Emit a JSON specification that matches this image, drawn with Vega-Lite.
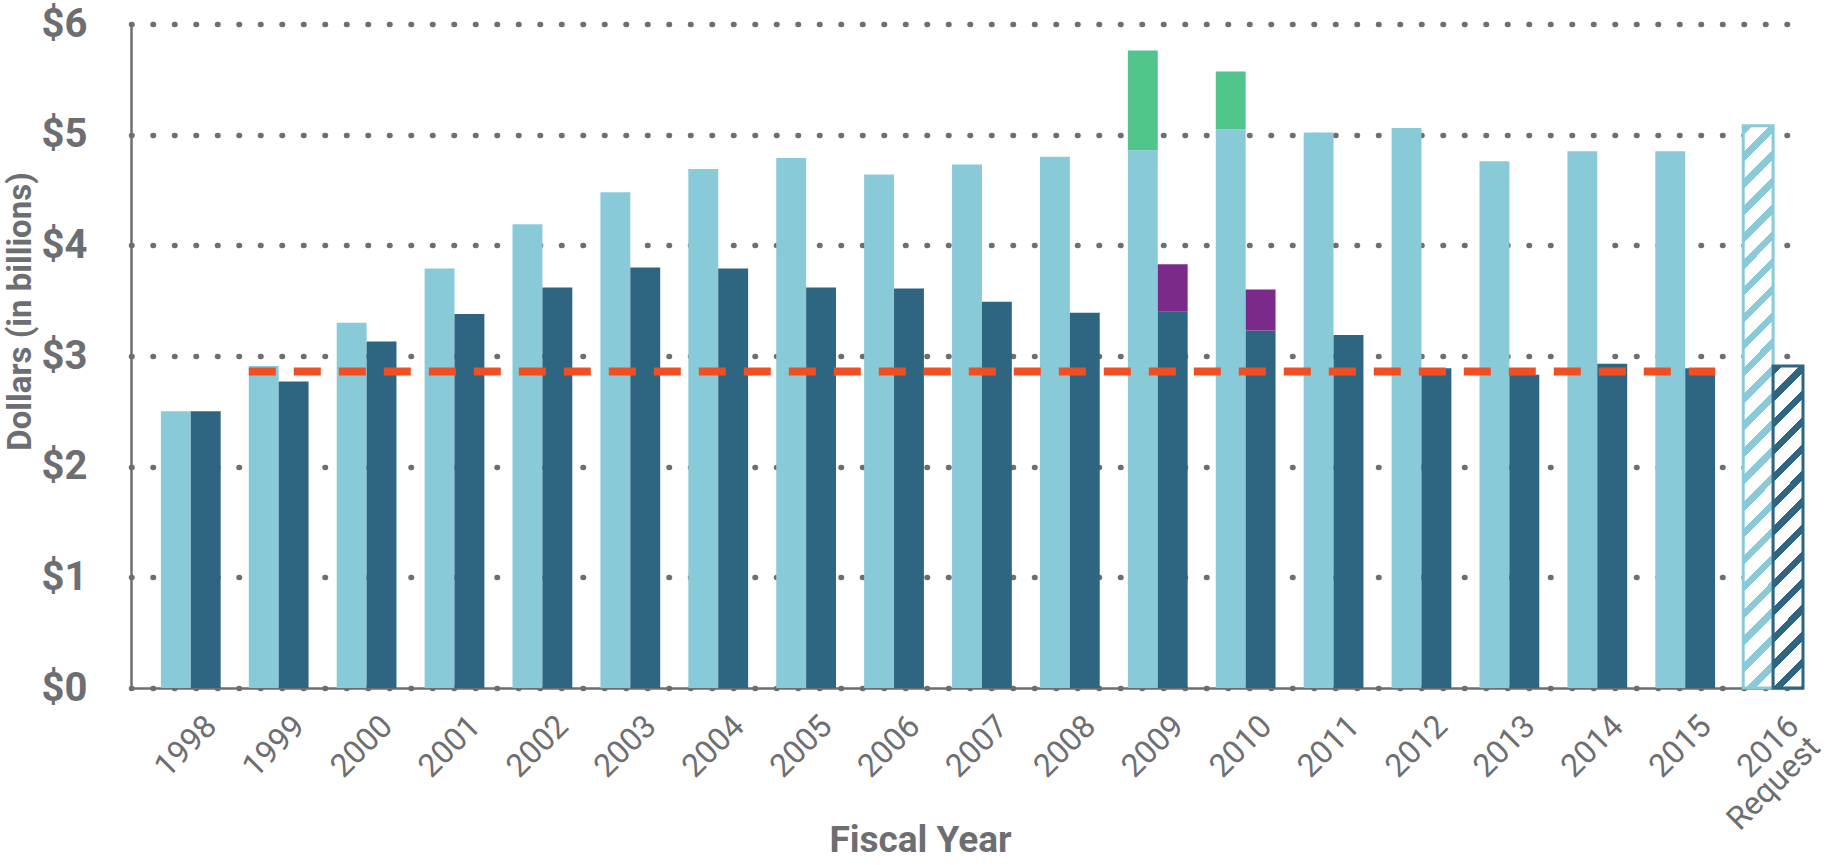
{
  "$schema": "https://vega.github.io/schema/vega-lite/v6.json",
  "width": 1672,
  "height": 664,
  "autosize": {"type": "none"},
  "padding": {"left": 131, "top": 24, "right": 34, "bottom": 177},
  "background": "#ffffff",
  "config": {
    "view": {"stroke": null},
    "font": "Roboto",
    "axis": {"labelColor": "#6D6E71", "titleColor": "#6D6E71", "domainColor": "#6D6E71", "domainWidth": 2.5, "ticks": false}
  },
  "datasets": {
    "bars": [
      {"year": "1998", "series": "Current", "segment": "Current base", "lo": 0, "hi": 2.50},
      {"year": "1998", "series": "Constant", "segment": "Constant base", "lo": 0, "hi": 2.50},
      {"year": "1999", "series": "Current", "segment": "Current base", "lo": 0, "hi": 2.91},
      {"year": "1999", "series": "Constant", "segment": "Constant base", "lo": 0, "hi": 2.77},
      {"year": "2000", "series": "Current", "segment": "Current base", "lo": 0, "hi": 3.30},
      {"year": "2000", "series": "Constant", "segment": "Constant base", "lo": 0, "hi": 3.13},
      {"year": "2001", "series": "Current", "segment": "Current base", "lo": 0, "hi": 3.79},
      {"year": "2001", "series": "Constant", "segment": "Constant base", "lo": 0, "hi": 3.38},
      {"year": "2002", "series": "Current", "segment": "Current base", "lo": 0, "hi": 4.19},
      {"year": "2002", "series": "Constant", "segment": "Constant base", "lo": 0, "hi": 3.62},
      {"year": "2003", "series": "Current", "segment": "Current base", "lo": 0, "hi": 4.48},
      {"year": "2003", "series": "Constant", "segment": "Constant base", "lo": 0, "hi": 3.80},
      {"year": "2004", "series": "Current", "segment": "Current base", "lo": 0, "hi": 4.69},
      {"year": "2004", "series": "Constant", "segment": "Constant base", "lo": 0, "hi": 3.79},
      {"year": "2005", "series": "Current", "segment": "Current base", "lo": 0, "hi": 4.79},
      {"year": "2005", "series": "Constant", "segment": "Constant base", "lo": 0, "hi": 3.62},
      {"year": "2006", "series": "Current", "segment": "Current base", "lo": 0, "hi": 4.64},
      {"year": "2006", "series": "Constant", "segment": "Constant base", "lo": 0, "hi": 3.61},
      {"year": "2007", "series": "Current", "segment": "Current base", "lo": 0, "hi": 4.73},
      {"year": "2007", "series": "Constant", "segment": "Constant base", "lo": 0, "hi": 3.49},
      {"year": "2008", "series": "Current", "segment": "Current base", "lo": 0, "hi": 4.80},
      {"year": "2008", "series": "Constant", "segment": "Constant base", "lo": 0, "hi": 3.39},
      {"year": "2009", "series": "Current", "segment": "Current base", "lo": 0, "hi": 4.86},
      {"year": "2009", "series": "Current", "segment": "Current ARRA", "lo": 4.86, "hi": 5.76},
      {"year": "2009", "series": "Constant", "segment": "Constant base", "lo": 0, "hi": 3.40},
      {"year": "2009", "series": "Constant", "segment": "Constant ARRA", "lo": 3.40, "hi": 3.83},
      {"year": "2010", "series": "Current", "segment": "Current base", "lo": 0, "hi": 5.05},
      {"year": "2010", "series": "Current", "segment": "Current ARRA", "lo": 5.05, "hi": 5.57},
      {"year": "2010", "series": "Constant", "segment": "Constant base", "lo": 0, "hi": 3.23},
      {"year": "2010", "series": "Constant", "segment": "Constant ARRA", "lo": 3.23, "hi": 3.60},
      {"year": "2011", "series": "Current", "segment": "Current base", "lo": 0, "hi": 5.02},
      {"year": "2011", "series": "Constant", "segment": "Constant base", "lo": 0, "hi": 3.19},
      {"year": "2012", "series": "Current", "segment": "Current base", "lo": 0, "hi": 5.06},
      {"year": "2012", "series": "Constant", "segment": "Constant base", "lo": 0, "hi": 2.89},
      {"year": "2013", "series": "Current", "segment": "Current base", "lo": 0, "hi": 4.76},
      {"year": "2013", "series": "Constant", "segment": "Constant base", "lo": 0, "hi": 2.83},
      {"year": "2014", "series": "Current", "segment": "Current base", "lo": 0, "hi": 4.85},
      {"year": "2014", "series": "Constant", "segment": "Constant base", "lo": 0, "hi": 2.93},
      {"year": "2015", "series": "Current", "segment": "Current base", "lo": 0, "hi": 4.85},
      {"year": "2015", "series": "Constant", "segment": "Constant base", "lo": 0, "hi": 2.89},
      {"year": "2016", "series": "Current", "segment": "Current request", "lo": 0, "hi": 5.08},
      {"year": "2016", "series": "Constant", "segment": "Constant request", "lo": 0, "hi": 2.91}
    ],
    "level": [
      {"from": "1999", "to": "2015", "value": 2.86}
    ]
  },
  "data": {"name": "bars"},
  "encoding": {
    "x": {
      "field": "year",
      "type": "nominal",
      "scale": {"paddingInner": 0.32, "paddingOuter": 0.17, "align": 1},
      "axis": {
        "title": "Fiscal Year",
        "titleFontSize": 37,
        "titleFontWeight": "bold",
        "titleX": 789,
        "titleY": 163,
        "titleAlign": "center",
        "titleBaseline": "alphabetic",
        "labelAngle": -45,
        "labelFontSize": 32,
        "labelPadding": 22,
        "labelOffset": 10,
        "labelExpr": "datum.value == '2016' ? ['2016', 'Request'] : datum.value",
        "labelLineHeight": 30
      }
    }
  },
  "layer": [
    {
      "transform": [{"filter": "datum.segment != 'Current request' && datum.segment != 'Constant request'"}],
      "mark": {"type": "bar"},
      "encoding": {
        "xOffset": {"field": "series", "type": "nominal", "scale": {"domain": ["Current", "Constant"]}},
        "y": {
          "field": "hi",
          "type": "quantitative",
          "scale": {"domain": [0, 6]},
          "axis": {
            "title": "Dollars (in billions)",
            "titleFontSize": 33,
            "titleFontWeight": "bold",
            "titleX": -111,
            "titleY": 287,
            "titleAngle": -90,
            "titleAlign": "center",
            "titleBaseline": "middle",
            "values": [0, 1, 2, 3, 4, 5, 6],
            "labelExpr": "'$' + datum.value",
            "labelFontSize": 40,
            "labelFontWeight": "bold",
            "labelPadding": 44,
            "grid": true,
            "gridColor": "#6D6E71",
            "gridDash": [0.5, 21],
            "gridCap": "round",
            "gridWidth": 5.5,
            "gridOpacity": 1
          }
        },
        "y2": {"field": "lo"},
        "color": {
          "field": "segment",
          "type": "nominal",
          "scale": {
            "domain": ["Current base", "Current ARRA", "Constant base", "Constant ARRA"],
            "range": ["#89CAD8", "#50C48A", "#2E6681", "#7B2A8C"]
          },
          "legend": null
        }
      }
    },
    {
      "transform": [{"filter": "datum.segment == 'Current request'"}],
      "mark": {
        "type": "bar",
        "stroke": "#89CAD8",
        "strokeWidth": 3,
        "fill": {
          "gradient": "linear", "x1": 0, "y1": 0, "x2": 0.0566, "y2": 1.06,
          "stops": [
            {"offset": 0, "color": "#89CAD8"}, {"offset": 0.016, "color": "#89CAD8"}, {"offset": 0.016, "color": "#ffffff"}, {"offset": 0.045, "color": "#ffffff"},
            {"offset": 0.045, "color": "#89CAD8"}, {"offset": 0.061, "color": "#89CAD8"}, {"offset": 0.061, "color": "#ffffff"}, {"offset": 0.09, "color": "#ffffff"},
            {"offset": 0.09, "color": "#89CAD8"}, {"offset": 0.106, "color": "#89CAD8"}, {"offset": 0.106, "color": "#ffffff"}, {"offset": 0.135, "color": "#ffffff"},
            {"offset": 0.135, "color": "#89CAD8"}, {"offset": 0.151, "color": "#89CAD8"}, {"offset": 0.151, "color": "#ffffff"}, {"offset": 0.18, "color": "#ffffff"},
            {"offset": 0.18, "color": "#89CAD8"}, {"offset": 0.196, "color": "#89CAD8"}, {"offset": 0.196, "color": "#ffffff"}, {"offset": 0.225, "color": "#ffffff"},
            {"offset": 0.225, "color": "#89CAD8"}, {"offset": 0.241, "color": "#89CAD8"}, {"offset": 0.241, "color": "#ffffff"}, {"offset": 0.27, "color": "#ffffff"},
            {"offset": 0.27, "color": "#89CAD8"}, {"offset": 0.286, "color": "#89CAD8"}, {"offset": 0.286, "color": "#ffffff"}, {"offset": 0.315, "color": "#ffffff"},
            {"offset": 0.315, "color": "#89CAD8"}, {"offset": 0.331, "color": "#89CAD8"}, {"offset": 0.331, "color": "#ffffff"}, {"offset": 0.36, "color": "#ffffff"},
            {"offset": 0.36, "color": "#89CAD8"}, {"offset": 0.376, "color": "#89CAD8"}, {"offset": 0.376, "color": "#ffffff"}, {"offset": 0.405, "color": "#ffffff"},
            {"offset": 0.405, "color": "#89CAD8"}, {"offset": 0.421, "color": "#89CAD8"}, {"offset": 0.421, "color": "#ffffff"}, {"offset": 0.45, "color": "#ffffff"},
            {"offset": 0.45, "color": "#89CAD8"}, {"offset": 0.466, "color": "#89CAD8"}, {"offset": 0.466, "color": "#ffffff"}, {"offset": 0.495, "color": "#ffffff"},
            {"offset": 0.495, "color": "#89CAD8"}, {"offset": 0.511, "color": "#89CAD8"}, {"offset": 0.511, "color": "#ffffff"}, {"offset": 0.54, "color": "#ffffff"},
            {"offset": 0.54, "color": "#89CAD8"}, {"offset": 0.556, "color": "#89CAD8"}, {"offset": 0.556, "color": "#ffffff"}, {"offset": 0.585, "color": "#ffffff"},
            {"offset": 0.585, "color": "#89CAD8"}, {"offset": 0.601, "color": "#89CAD8"}, {"offset": 0.601, "color": "#ffffff"}, {"offset": 0.63, "color": "#ffffff"},
            {"offset": 0.63, "color": "#89CAD8"}, {"offset": 0.646, "color": "#89CAD8"}, {"offset": 0.646, "color": "#ffffff"}, {"offset": 0.675, "color": "#ffffff"},
            {"offset": 0.675, "color": "#89CAD8"}, {"offset": 0.691, "color": "#89CAD8"}, {"offset": 0.691, "color": "#ffffff"}, {"offset": 0.72, "color": "#ffffff"},
            {"offset": 0.72, "color": "#89CAD8"}, {"offset": 0.736, "color": "#89CAD8"}, {"offset": 0.736, "color": "#ffffff"}, {"offset": 0.765, "color": "#ffffff"},
            {"offset": 0.765, "color": "#89CAD8"}, {"offset": 0.781, "color": "#89CAD8"}, {"offset": 0.781, "color": "#ffffff"}, {"offset": 0.81, "color": "#ffffff"},
            {"offset": 0.81, "color": "#89CAD8"}, {"offset": 0.826, "color": "#89CAD8"}, {"offset": 0.826, "color": "#ffffff"}, {"offset": 0.855, "color": "#ffffff"},
            {"offset": 0.855, "color": "#89CAD8"}, {"offset": 0.871, "color": "#89CAD8"}, {"offset": 0.871, "color": "#ffffff"}, {"offset": 0.9, "color": "#ffffff"},
            {"offset": 0.9, "color": "#89CAD8"}, {"offset": 0.916, "color": "#89CAD8"}, {"offset": 0.916, "color": "#ffffff"}, {"offset": 0.945, "color": "#ffffff"},
            {"offset": 0.945, "color": "#89CAD8"}, {"offset": 0.961, "color": "#89CAD8"}, {"offset": 0.961, "color": "#ffffff"}, {"offset": 0.99, "color": "#ffffff"},
            {"offset": 0.99, "color": "#89CAD8"}, {"offset": 1, "color": "#89CAD8"}
          ]
        }
      },
      "encoding": {
        "xOffset": {"field": "series", "type": "nominal", "scale": {"domain": ["Current", "Constant"]}},
        "y": {"field": "hi", "type": "quantitative"},
        "y2": {"field": "lo"}
      }
    },
    {
      "transform": [{"filter": "datum.segment == 'Constant request'"}],
      "mark": {
        "type": "bar",
        "stroke": "#2E6681",
        "strokeWidth": 3,
        "fill": {
          "gradient": "linear", "x1": 0, "y1": 0, "x2": 0.1025, "y2": 1.1,
          "stops": [
            {"offset": 0, "color": "#2E6681"}, {"offset": 0.026, "color": "#2E6681"}, {"offset": 0.026, "color": "#ffffff"}, {"offset": 0.075, "color": "#ffffff"},
            {"offset": 0.075, "color": "#2E6681"}, {"offset": 0.101, "color": "#2E6681"}, {"offset": 0.101, "color": "#ffffff"}, {"offset": 0.15, "color": "#ffffff"},
            {"offset": 0.15, "color": "#2E6681"}, {"offset": 0.176, "color": "#2E6681"}, {"offset": 0.176, "color": "#ffffff"}, {"offset": 0.225, "color": "#ffffff"},
            {"offset": 0.225, "color": "#2E6681"}, {"offset": 0.251, "color": "#2E6681"}, {"offset": 0.251, "color": "#ffffff"}, {"offset": 0.3, "color": "#ffffff"},
            {"offset": 0.3, "color": "#2E6681"}, {"offset": 0.326, "color": "#2E6681"}, {"offset": 0.326, "color": "#ffffff"}, {"offset": 0.375, "color": "#ffffff"},
            {"offset": 0.375, "color": "#2E6681"}, {"offset": 0.401, "color": "#2E6681"}, {"offset": 0.401, "color": "#ffffff"}, {"offset": 0.45, "color": "#ffffff"},
            {"offset": 0.45, "color": "#2E6681"}, {"offset": 0.476, "color": "#2E6681"}, {"offset": 0.476, "color": "#ffffff"}, {"offset": 0.525, "color": "#ffffff"},
            {"offset": 0.525, "color": "#2E6681"}, {"offset": 0.551, "color": "#2E6681"}, {"offset": 0.551, "color": "#ffffff"}, {"offset": 0.6, "color": "#ffffff"},
            {"offset": 0.6, "color": "#2E6681"}, {"offset": 0.626, "color": "#2E6681"}, {"offset": 0.626, "color": "#ffffff"}, {"offset": 0.675, "color": "#ffffff"},
            {"offset": 0.675, "color": "#2E6681"}, {"offset": 0.701, "color": "#2E6681"}, {"offset": 0.701, "color": "#ffffff"}, {"offset": 0.75, "color": "#ffffff"},
            {"offset": 0.75, "color": "#2E6681"}, {"offset": 0.776, "color": "#2E6681"}, {"offset": 0.776, "color": "#ffffff"}, {"offset": 0.825, "color": "#ffffff"},
            {"offset": 0.825, "color": "#2E6681"}, {"offset": 0.851, "color": "#2E6681"}, {"offset": 0.851, "color": "#ffffff"}, {"offset": 0.9, "color": "#ffffff"},
            {"offset": 0.9, "color": "#2E6681"}, {"offset": 0.926, "color": "#2E6681"}, {"offset": 0.926, "color": "#ffffff"}, {"offset": 0.975, "color": "#ffffff"},
            {"offset": 0.975, "color": "#2E6681"}, {"offset": 1, "color": "#2E6681"}
          ]
        }
      },
      "encoding": {
        "xOffset": {"field": "series", "type": "nominal", "scale": {"domain": ["Current", "Constant"]}},
        "y": {"field": "hi", "type": "quantitative"},
        "y2": {"field": "lo"}
      }
    },
    {
      "data": {"name": "level"},
      "mark": {"type": "rule", "color": "#F04E23", "strokeWidth": 8, "strokeDash": [27, 18]},
      "encoding": {
        "x": {"field": "from", "type": "nominal", "bandPosition": 0},
        "x2": {"field": "to", "bandPosition": 1},
        "y": {"field": "value", "type": "quantitative"}
      }
    }
  ]
}
